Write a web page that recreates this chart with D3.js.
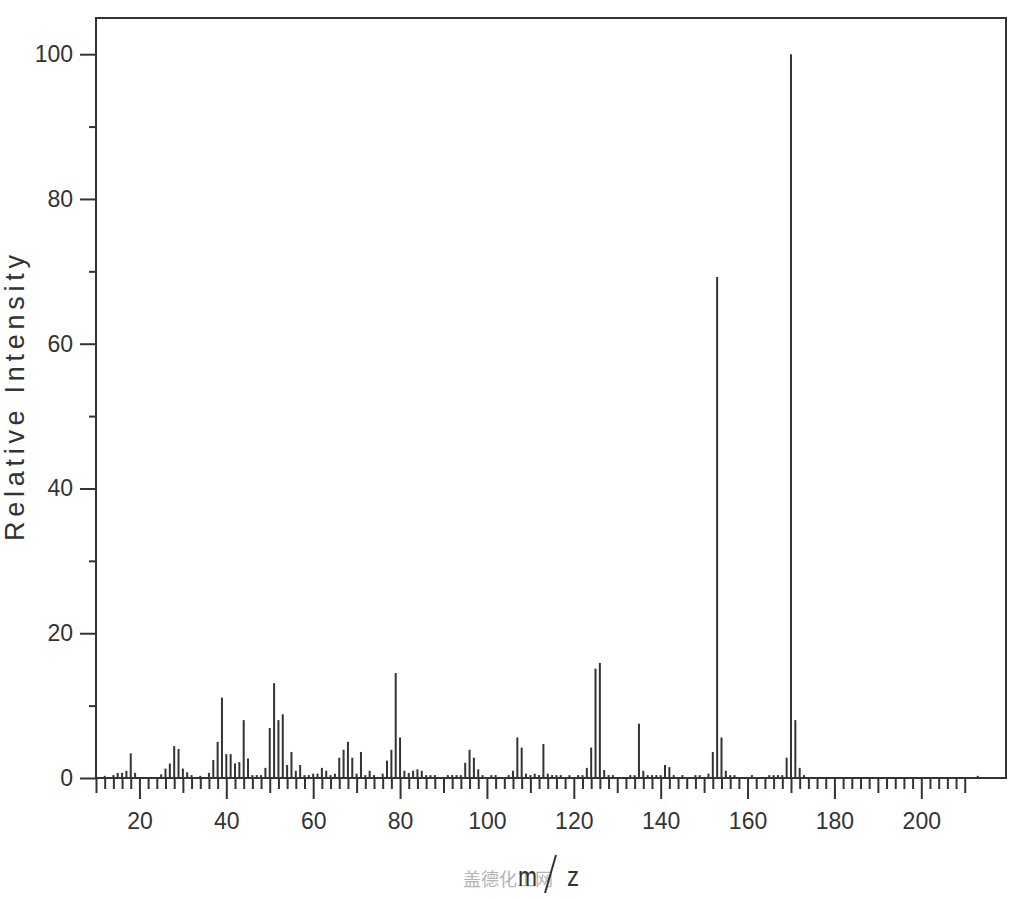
<!DOCTYPE html>
<html>
<head>
<meta charset="utf-8">
<script src="https://cdn.jsdelivr.net/npm/d3@7"></script>
<style>
  html, body { margin: 0; padding: 0; background: #fff; }
  svg { display: block; }
  text { font-family: "Liberation Sans", Arial, sans-serif; fill: #333; }
</style>
</head>
<body>
<svg id="chart" width="1024" height="900"></svg>
<script>
// m/z values and relative intensities
const mzValues = [12,14,15,16,17,18,19,25,26,27,28,29,30,31,32,34,36,37,38,39,40,41,42,43,44,45,46,47,48,49,50,51,52,53,54,55,56,57,58,59,60,61,62,63,64,65,66,67,68,69,70,71,72,73,74,76,77,78,79,80,81,82,83,84,85,86,87,88,91,92,93,94,95,96,97,98,99,101,102,105,106,107,108,109,110,111,112,113,114,115,116,117,119,121,122,123,124,125,126,127,128,129,133,134,135,136,137,138,139,140,141,142,143,145,148,149,151,152,153,154,155,156,157,161,165,166,167,168,169,170,171,172,173,213];
const intensities = [0.3,0.4,0.7,0.7,1.0,3.4,0.7,0.5,1.3,2.0,4.4,4.0,1.3,0.8,0.4,0.3,0.7,2.5,5.0,11.1,3.3,3.3,2.0,2.2,8.0,2.7,0.4,0.4,0.4,1.4,6.9,13.1,8.0,8.8,1.8,3.6,1.0,1.8,0.4,0.4,0.6,0.6,1.4,1.0,0.4,0.6,2.8,3.9,5.0,2.8,0.6,3.6,0.4,1.0,0.4,0.6,2.4,3.9,14.5,5.6,1.0,0.7,1.0,1.2,1.0,0.4,0.4,0.4,0.4,0.4,0.4,0.4,2.1,3.9,2.8,1.2,0.4,0.4,0.4,0.4,1.0,5.6,4.2,0.6,0.4,0.6,0.4,4.7,0.6,0.4,0.4,0.4,0.4,0.4,0.4,1.4,4.2,15.1,15.9,1.1,0.4,0.4,0.4,0.4,7.5,1.0,0.4,0.4,0.4,0.4,1.8,1.5,0.4,0.4,0.4,0.4,0.6,3.6,69.2,5.6,1.0,0.4,0.4,0.4,0.4,0.4,0.4,0.4,2.8,100,8.0,1.4,0.4,0.3];

const xMajorTicks = [20,40,60,80,100,120,140,160,180,200];
const xMediumTicks = [10,30,50,70,90,110,130,150,170,190,210];
const xMinorTicks = [12,14,16,18,22,24,26,28,32,34,36,38,42,44,46,48,52,54,56,58,62,64,66,68,72,74,76,78,82,84,86,88,92,94,96,98,102,104,106,108,112,114,116,118,122,124,126,128,132,134,136,138,142,144,146,148,152,154,156,158,162,164,166,168,172,174,176,178,182,184,186,188,192,194,196,198,202,204,206,208];
const yMajorTicks = [0,20,40,60,80,100];
const yMinorTicks = [10,30,50,70,90];

const xTitle = "m/z";
const yTitle = "Relative Intensity";
const watermark = "盖德化工网";

(function () {
const svg = d3.select("#chart");
const pLeft = 96, pRight = 1006, pTop = 18, pBottom = 778;

const x = d3.scaleLinear().domain([10, 219.5]).range([pLeft, pRight]);
const y = d3.scaleLinear().domain([0, 105]).range([pBottom, pTop]);

const axisColor = "#333";

// peaks
const peaks = mzValues.map((m, i) => ({ mz: m, v: intensities[i] }));
svg.append("g").selectAll("line").data(peaks).join("line")
  .attr("x1", d => x(d.mz)).attr("x2", d => x(d.mz))
  .attr("y1", y(0)).attr("y2", d => y(d.v))
  .attr("stroke", "#333").attr("stroke-width", 2);

function styleAxis(g) {
  g.select(".domain").remove();
  g.selectAll(".tick line").attr("stroke", axisColor).attr("stroke-width", 2);
  g.selectAll("text").style("font-family", '"Liberation Sans", Arial, sans-serif')
    .style("font-size", "23px").attr("fill", "#333");
}
svg.append("g").attr("transform", `translate(0,${pBottom})`)
  .call(d3.axisBottom(x).tickValues(xMinorTicks).tickSize(11).tickFormat(""))
  .call(styleAxis);
svg.append("g").attr("transform", `translate(0,${pBottom})`)
  .call(d3.axisBottom(x).tickValues(xMediumTicks).tickSize(15).tickFormat(""))
  .call(styleAxis);
svg.append("g").attr("transform", `translate(0,${pBottom})`)
  .call(d3.axisBottom(x).tickValues(xMajorTicks).tickSize(21).tickPadding(14).tickFormat(d3.format("d")))
  .call(styleAxis);

svg.append("g").attr("transform", `translate(${pLeft},0)`)
  .call(d3.axisLeft(y).tickValues(yMinorTicks).tickSize(7).tickFormat(""))
  .call(styleAxis);
svg.append("g").attr("transform", `translate(${pLeft},0)`)
  .call(d3.axisLeft(y).tickValues(yMajorTicks).tickSize(16).tickPadding(7).tickFormat(d3.format("d")))
  .call(styleAxis);

// frame
svg.append("rect")
  .attr("x", pLeft).attr("y", pTop)
  .attr("width", pRight - pLeft).attr("height", pBottom - pTop)
  .attr("fill", "none").attr("stroke", axisColor).attr("stroke-width", 2);

// y title
svg.append("text")
  .attr("transform", "translate(24,398) rotate(-90)")
  .attr("text-anchor", "middle")
  .attr("textLength", 286).attr("lengthAdjust", "spacing")
  .style("font-size", "27px")
  .text(yTitle);

// watermark (faint, behind the axis title)
svg.append("text")
  .attr("x", 463).attr("y", 886)
  .attr("textLength", 90).attr("lengthAdjust", "spacing")
  .style("font-family", '"Noto Sans CJK SC", sans-serif')
  .style("font-size", "18px")
  .style("fill", "#b5b5b5")
  .text(watermark);

// x title: m / z
const parts = xTitle.split("/");
svg.append("text")
  .attr("x", 518).attr("y", 886)
  .attr("textLength", 19).attr("lengthAdjust", "spacingAndGlyphs")
  .style("font-size", "28px")
  .text(parts[0]);
svg.append("line")
  .attr("x1", 545).attr("y1", 893).attr("x2", 556).attr("y2", 855)
  .attr("stroke", "#333").attr("stroke-width", 2);
svg.append("text")
  .attr("x", 567).attr("y", 886)
  .attr("textLength", 12).attr("lengthAdjust", "spacingAndGlyphs")
  .style("font-size", "28px")
  .text(parts[1]);
})();
</script>
</body>
</html>
